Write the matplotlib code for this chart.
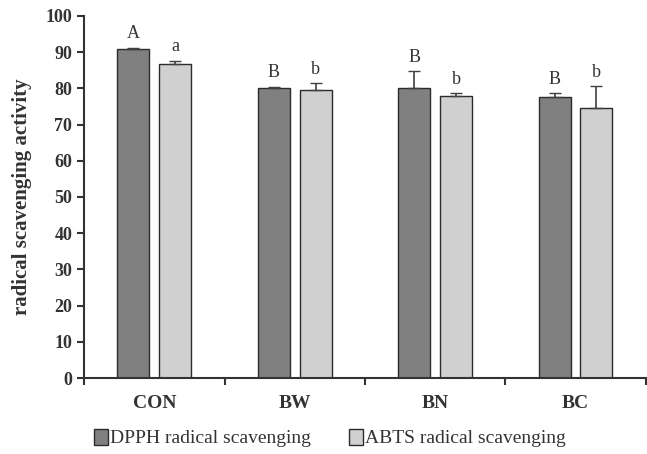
import numpy as np
import matplotlib.pyplot as plt

plt.rcParams['font.family'] = ['Liberation Serif', 'DejaVu Serif']

groups = ["CON", "BW", "BN", "BC"]
dpph = [91.0, 80.2, 80.0, 77.6]
dpph_err = [0.2, 0.3, 4.7, 1.1]
abts = [86.7, 79.6, 77.9, 74.5]
abts_err = [1.0, 1.8, 0.7, 6.1]
dpph_letters = ["A", "B", "B", "B"]
abts_letters = ["a", "b", "b", "b"]

fig = plt.figure(figsize=(6.47, 4.54), dpi=100)
ax = fig.add_axes([0.13, 0.1674, 0.868, 0.7974])

x = np.arange(len(groups))
w = 0.227
off = 0.149
zeros = [0] * len(groups)

ax.bar(x - off, dpph, w, color='#808080', edgecolor='#2b2b2b', linewidth=1,
       yerr=[zeros, dpph_err], capsize=4, error_kw=dict(ecolor='#404040', elinewidth=1.2),
       label='DPPH radical scavenging')
ax.bar(x + off, abts, w, color='#d0d0d0', edgecolor='#2b2b2b', linewidth=1,
       yerr=[zeros, abts_err], capsize=4, error_kw=dict(ecolor='#404040', elinewidth=1.2),
       label='ABTS radical scavenging')

for i in range(len(groups)):
    ax.text(x[i] - off, dpph[i] + dpph_err[i] + 1.5, dpph_letters[i], ha='center', va='bottom',
            fontsize=13, color='#333333')
    ax.text(x[i] + off, abts[i] + abts_err[i] + 1.5, abts_letters[i], ha='center', va='bottom',
            fontsize=13, color='#333333')

ax.set_xlim(-0.5, 3.5)
ax.set_ylim(0, 100)
ax.set_yticks(range(0, 101, 10))
ax.set_xticks([-0.5, 0.5, 1.5, 2.5, 3.5])
ax.set_xticklabels([])
ax.set_xticks(x, minor=True)
ax.set_xticklabels(groups, minor=True)
ax.tick_params(axis='x', which='minor', length=0, pad=12, labelsize=14)
ax.tick_params(axis='x', which='major', direction='out', length=5, width=1.5, color='#333333')
ax.tick_params(axis='y', direction='out', length=5, width=1.5, labelsize=13, color='#333333')
for lab in ax.get_yticklabels() + ax.get_xticklabels(minor=True):
    lab.set_fontweight('bold')
    lab.set_color('#333333')

for s in ['top', 'right']:
    ax.spines[s].set_visible(False)
for s in ['left', 'bottom']:
    ax.spines[s].set_linewidth(1.5)
    ax.spines[s].set_color('#333333')

ax.set_ylabel('radical scavenging activity', fontsize=15, fontweight='bold', color='#333333',
              labelpad=10)

fig.legend(loc='center', bbox_to_anchor=(0.51, 0.035), ncol=2, frameon=False,
           fontsize=14, handlelength=0.7, handleheight=0.9, handletextpad=0.1, columnspacing=2.0,
           labelcolor='#333333')

fig.savefig('out.png', dpi=100)
